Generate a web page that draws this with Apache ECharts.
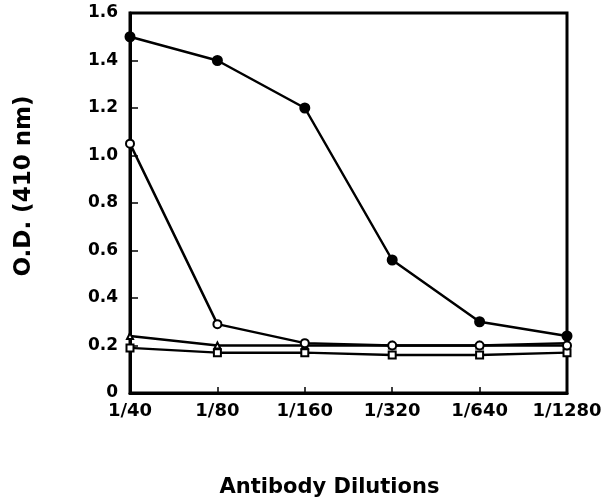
<!DOCTYPE html>
<html>
<head>
<meta charset="utf-8">
<script src="https://cdn.jsdelivr.net/npm/echarts@6/dist/echarts.min.js"></script>
<style>
html,body{margin:0;padding:0;background:#fff;}
#c{width:610px;height:503px;}
</style>
</head>
<body>
<div id="c"></div>
<script>
var dilutions = ['1/40', '1/80', '1/160', '1/320', '1/640', '1/1280'];
var filledCircles = [1.5, 1.4, 1.2, 0.56, 0.3, 0.24];
var openCircles = [1.05, 0.29, 0.21, 0.2, 0.2, 0.2];
var triangles = [0.24, 0.2, 0.2, 0.2, 0.2, 0.21];
var openSquares = [0.19, 0.17, 0.17, 0.16, 0.16, 0.17];
var yTicks = [0, 0.2, 0.4, 0.6, 0.8, 1.0, 1.2, 1.4, 1.6];

var FONT = 'DejaVu Sans';
var chart = echarts.init(document.getElementById('c'));
function ser(data, symbol, size, fill) {
  return {
    type: 'line', data: data, symbol: symbol, symbolSize: size,
    showAllSymbol: true,
    lineStyle: {color: '#000', width: 2.5},
    itemStyle: {color: fill, borderColor: '#000', borderWidth: 2},
    z: 3
  };
}
chart.setOption({
  animation: false,
  backgroundColor: '#fff',
  grid: {left: 130, right: 43, top: 13, bottom: 110, show: true, borderColor: '#000', borderWidth: 3},
  xAxis: {
    type: 'category', data: dilutions, boundaryGap: false,
    axisLine: {lineStyle: {color: '#000', width: 3}},
    axisTick: {inside: true, length: 6, interval: 0, lineStyle: {color: '#000', width: 1.5}},
    axisLabel: {color: '#000', fontFamily: FONT, fontWeight: 'bold', fontSize: 18, margin: 9, interval: 0},
    name: 'Antibody Dilutions', nameLocation: 'middle', nameGap: 84,
    nameTextStyle: {color: '#000', fontFamily: FONT, fontSize: 21, fontWeight: 'bold', padding: [0, 38, 0, 0]}
  },
  yAxis: {
    type: 'value', min: 0, max: 1.6, interval: 0.2,
    axisLine: {show: true, lineStyle: {color: '#000', width: 3}},
    axisTick: {show: true, inside: true, length: 8, lineStyle: {color: '#000', width: 1.5}},
    splitLine: {show: false},
    axisLabel: {color: '#000', fontFamily: FONT, fontWeight: 'bold', fontSize: 17, margin: 12,
      formatter: function (v) {
        for (var i = 0; i < yTicks.length; i++) {
          if (Math.abs(yTicks[i] - v) < 1e-9) return v === 0 ? '0' : v.toFixed(1);
        }
        return '';
      }},
    name: 'O.D. (410 nm)', nameLocation: 'middle', nameGap: 94, nameRotate: 90,
    nameTextStyle: {color: '#000', fontFamily: FONT, fontSize: 23, fontWeight: 'bold', padding: [0, 0, 0, 34]}
  },
  series: [
    ser(openSquares, 'rect', 7, '#fff'),
    ser(triangles, 'triangle', 6, '#fff'),
    ser(openCircles, 'circle', 8, '#fff'),
    ser(filledCircles, 'circle', 9, '#000')
  ]
});
</script>
</body>
</html>
